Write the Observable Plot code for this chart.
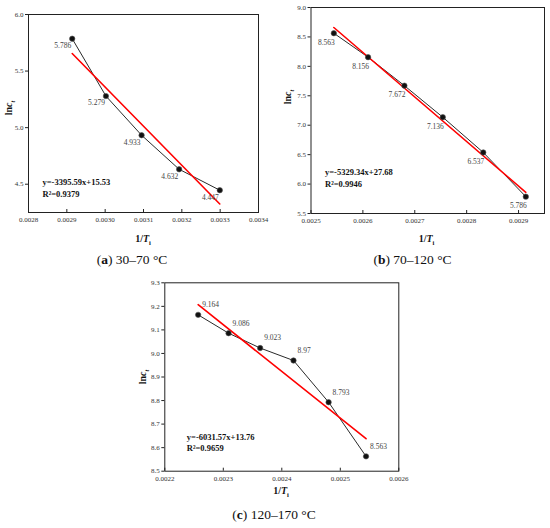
<!DOCTYPE html>
<html><head><meta charset="utf-8">
<script src="https://cdn.jsdelivr.net/npm/d3@7"></script>
<script src="https://cdn.jsdelivr.net/npm/@observablehq/plot@0.6"></script>
<style>
body{margin:0;background:#fff;}
#wrap{position:relative;width:550px;height:528px;overflow:hidden;font-family:"Liberation Serif","Times New Roman",serif;color:#111;}
.panel{position:absolute;}
.cap{position:absolute;font-size:13.5px;transform:translate(-50%,-50%);white-space:nowrap;}
.xl{position:absolute;font-size:10px;font-weight:bold;transform:translate(-50%,-50%);white-space:nowrap;}
.yl{position:absolute;font-size:10px;font-weight:bold;transform:translate(-50%,-50%) rotate(-90deg);white-space:nowrap;}
sub{font-size:65%;vertical-align:-3px;line-height:0;}
</style></head>
<body><div id="wrap"></div>
<script>
// Panel (a) 30–70 °C
const xA = [0.002914, 0.003002, 0.003095, 0.003193, 0.003299];
const yA = [5.786, 5.279, 4.933, 4.632, 4.447];
const fitXA = [0.002914, 0.003299];
const fitYA = [5.655, 4.325];
const eqA = ["y=-3395.59x+15.53", "R²=0.9379"];
const xTicksA = [0.0028, 0.0029, 0.0030, 0.0031, 0.0032, 0.0033, 0.0034];
const yTicksA = [4.5, 5.0, 5.5, 6.0];
const capA = "30–70 °C";

// Panel (b) 70–120 °C
const xB = [0.002544, 0.002610, 0.002680, 0.002754, 0.002832, 0.002914];
const yB = [8.563, 8.156, 7.672, 7.136, 6.537, 5.786];
const fitXB = [0.002544, 0.002914];
const fitYB = [8.66, 5.86];
const eqB = ["y=-5329.34x+27.68", "R²=0.9946"];
const xTicksB = [0.0025, 0.0026, 0.0027, 0.0028, 0.0029];
const yTicksB = [5.5, 6.0, 6.5, 7.0, 7.5, 8.0, 8.5, 9.0];
const capB = "70–120 °C";

// Panel (c) 120–170 °C
const xC = [0.002257, 0.002309, 0.002363, 0.002420, 0.002480, 0.002544];
const yC = [9.164, 9.086, 9.023, 8.97, 8.793, 8.563];
const fitXC = [0.002257, 0.002544];
const fitYC = [9.207, 8.638];
const eqC = ["y=-6031.57x+13.76", "R²=0.9659"];
const xTicksC = [0.0022, 0.0023, 0.0024, 0.0025, 0.0026];
const yTicksC = [8.5, 8.6, 8.7, 8.8, 8.9, 9.0, 9.1, 9.2, 9.3];
const capC = "120–170 °C";

const wrap = document.getElementById("wrap");

function panel(o) {
  const innerH = o.height - o.mt - o.mb;
  const idx = d3.range(o.xs.length);
  const fidx = d3.range(o.fx.length);
  const chart = Plot.plot({
    width: o.width, height: o.height,
    marginLeft: o.ml, marginRight: o.mr, marginTop: o.mt, marginBottom: o.mb,
    style: {fontFamily: "'Liberation Serif','Times New Roman',serif", fontSize: "7px", color: "#222", background: "transparent"},
    x: {domain: o.xDomain},
    y: {domain: o.yDomain},
    marks: [
      Plot.frame({stroke: "#222", strokeWidth: 1}),
      Plot.tickX(o.xTicks, {x: d => d, insetTop: innerH - 3, stroke: "#222"}),
      Plot.axisX(o.xTicks, {tickSize: 0, tickPadding: o.xPad, tickFormat: d => d.toFixed(4), label: null, fill: "#333"}),
      Plot.axisY(o.yTicks, {tickSize: 3, tickPadding: 2, tickFormat: d => d.toFixed(1), label: null, fill: "#333"}),
      Plot.line(idx, {x: i => o.xs[i], y: i => o.ys[i], stroke: "#2a2a2a", strokeWidth: 1}),
      Plot.line(fidx, {x: i => o.fx[i], y: i => o.fy[i], stroke: "#ff0000", strokeWidth: 1.6}),
      Plot.dot(idx, {x: i => o.xs[i], y: i => o.ys[i], r: 2.7, fill: "#111", stroke: "#555", strokeWidth: 0.6}),
      Plot.text(idx, {x: i => o.xs[i], y: i => o.ys[i], text: i => String(o.ys[i]), dx: o.ldx, dy: o.ldy, textAnchor: o.lanchor, fontSize: 7.5, fill: "#444"}),
      Plot.text([o.eq.join("\n")], {frameAnchor: "bottom-left", dx: o.edx, dy: o.edy, textAnchor: "start", lineAnchor: "bottom", fontWeight: "bold", fontSize: 8.5, lineHeight: 1.35, fill: "#111"})
    ]
  });
  const div = document.createElement("div");
  div.className = "panel";
  div.style.left = o.left + "px";
  div.style.top = o.top + "px";
  div.appendChild(chart);
  wrap.appendChild(div);

  const xl = document.createElement("div");
  xl.className = "xl";
  xl.style.left = o.xlx + "px"; xl.style.top = o.xly + "px";
  xl.innerHTML = "1/<i>T</i><sub>i</sub>";
  wrap.appendChild(xl);

  const yl = document.createElement("div");
  yl.className = "yl";
  yl.style.left = o.ylx + "px"; yl.style.top = o.yly + "px";
  yl.innerHTML = "ln<i>c</i><sub><i>t</i></sub>";
  wrap.appendChild(yl);

  const cap = document.createElement("div");
  cap.className = "cap";
  cap.style.left = o.capx + "px"; cap.style.top = o.capy + "px";
  cap.innerHTML = "(<b>" + o.letter + "</b>) " + o.cap;
  wrap.appendChild(cap);
}

panel({left: 0, top: 0, width: 270, height: 250, ml: 28, mr: 12, mt: 14, mb: 38,
  xDomain: [0.0028, 0.0034], yDomain: [4.25, 6.0], xTicks: xTicksA, yTicks: yTicksA, xPad: 5,
  xs: xA, ys: yA, fx: fitXA, fy: fitYA, ldx: -1, ldy: 7, lanchor: "end",
  eq: eqA, edx: 14, edy: -16,
  xlx: 143, xly: 238, ylx: 8, yly: 108, capx: 132, capy: 260, letter: "a", cap: capA});

panel({left: 275, top: 0, width: 275, height: 250, ml: 35.5, mr: 6, mt: 7, mb: 37,
  xDomain: [0.0025, 0.00295], yDomain: [5.5, 9.0], xTicks: xTicksB, yTicks: yTicksB, xPad: 5,
  xs: xB, ys: yB, fx: fitXB, fy: fitYB, ldx: 1, ldy: 9, lanchor: "end",
  eq: eqB, edx: 14, edy: -27,
  xlx: 426.5, xly: 238, ylx: 287, yly: 97, capx: 412.5, capy: 260, letter: "b", cap: capB});

panel({left: 130, top: 260, width: 290, height: 250, ml: 34.3, mr: 21.7, mt: 22.3, mb: 39.3,
  xDomain: [0.0022, 0.0026], yDomain: [8.5, 9.3], xTicks: xTicksC, yTicks: yTicksC, xPad: 4.5,
  xs: xC, ys: yC, fx: fitXC, fy: fitYC, ldx: 4, ldy: -10, lanchor: "start",
  eq: eqC, edx: 22, edy: -20,
  xlx: 281, xly: 490, ylx: 142, yly: 377, capx: 274, capy: 515, letter: "c", cap: capC});
</script>
</body></html>
